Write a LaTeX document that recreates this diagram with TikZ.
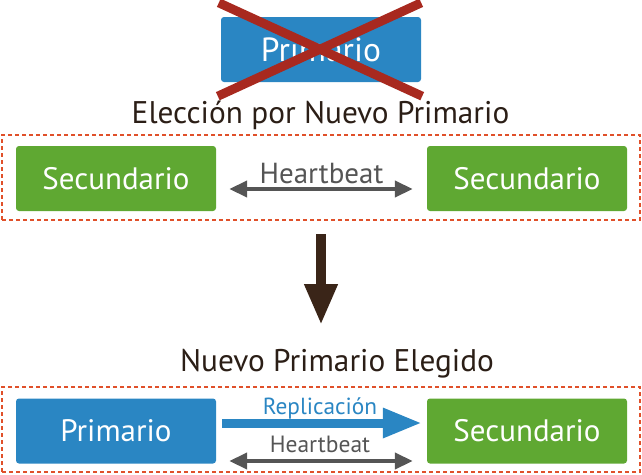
\documentclass[tikz,border=0pt]{standalone}
\usepackage{fontspec}
\setmainfont{PT Sans}
\usetikzlibrary{arrows.meta}
\definecolor{boxgreen}{HTML}{5FA832}
\definecolor{boxblue}{HTML}{2A86C3}
\definecolor{dashred}{HTML}{E0502A}
\definecolor{crossred}{HTML}{A8291F}
\definecolor{hbgray}{HTML}{555555}
\definecolor{titlebrown}{HTML}{2B1E16}
\definecolor{arrowbrown}{HTML}{3A2518}
\tikzset{
  srvbox/.style={rounded corners=3pt, minimum width=200pt, minimum height=65pt,
    inner sep=0pt, text=white, font=\fontsize{31}{31}\selectfont},
  greenbox/.style={srvbox, fill=boxgreen},
  bluebox/.style={srvbox, fill=boxblue},
  groupbox/.style={draw=dashred, line width=2pt, dash pattern=on 4pt off 3pt,
    minimum width=638pt, minimum height=85pt, inner sep=0pt},
  titletext/.style={text=titlebrown, font=\fontsize{31.3}{31.3}\selectfont, anchor=base, inner sep=0pt},
  hbtext/.style={text=hbgray, anchor=base, inner sep=0pt},
  hbarrow/.style={draw=hbgray, line width=4pt, {Triangle[length=18pt,width=16pt]}-{Triangle[length=18pt,width=16pt]}},
  reparrow/.style={draw=boxblue, line width=9pt, -{Triangle[length=39pt,width=28pt]}},
  crossline/.style={draw=crossred, line width=9pt},
  downarrow/.style={draw=arrowbrown, line width=10pt, -{Triangle[length=41pt,width=31pt]}}
}
\begin{document}
\begin{tikzpicture}[x=1pt,y=-1pt]
\useasboundingbox (0,0) rectangle (642,474);
% top crossed primary
\node[bluebox, font=\fontsize{33.5}{33.5}\selectfont] (oldp) at (321,49.5) {Primario};
\coordinate (c1) at ([shift={(-2pt,14pt)}]oldp.north west);
\coordinate (c2) at ([shift={(1pt,-14pt)}]oldp.south east);
\coordinate (c3) at ([shift={(0pt,14pt)}]oldp.north east);
\coordinate (c4) at ([shift={(-3pt,-14pt)}]oldp.south west);
\draw[crossline] (c1) -- (c2);
\draw[crossline] (c3) -- (c4);
% title 1
\node[titletext] (t1) at (320.5,123) {Elección por Nuevo Primario};
% group 1
\node[groupbox] (g1) at (321,177.5) {};
\node[greenbox] (s1) at (116,178.5) {Secundario};
\node[greenbox] (s2) at (527,178.5) {Secundario};
\draw[hbarrow, shorten <=13pt, shorten >=14pt] ([yshift=-10.5pt]s1.east) -- ([yshift=-10.5pt]s2.west);
\node[hbtext, font=\fontsize{29}{29}\selectfont] (hb1) at (321.5,183) {Heartbeat};
% down arrow
\draw[downarrow] ([yshift=-13pt]g1.south) -- ([yshift=-104pt]g1.south);
% title 2
\node[titletext] (t2) at (337,371) {Nuevo Primario Elegido};
% group 2
\node[groupbox] (g2) at (321,429.5) {};
\node[bluebox] (p) at (116,431) {Primario};
\node[greenbox] (s3) at (527,431) {Secundario};
\draw[reparrow, shorten <=6pt, shorten >=5pt] ([yshift=8pt]p.east) -- ([yshift=8pt]s3.west);
\node[hbtext, text=boxblue, font=\fontsize{23.3}{23.3}\selectfont] (rep) at (320,414) {Replicación};
\draw[hbarrow, shorten <=13pt, shorten >=14pt] ([yshift=-30pt]p.east) -- ([yshift=-30pt]s3.west);
\node[hbtext, font=\fontsize{23.5}{23.5}\selectfont] (hb2) at (320,452) {Heartbeat};
\end{tikzpicture}
\end{document}
